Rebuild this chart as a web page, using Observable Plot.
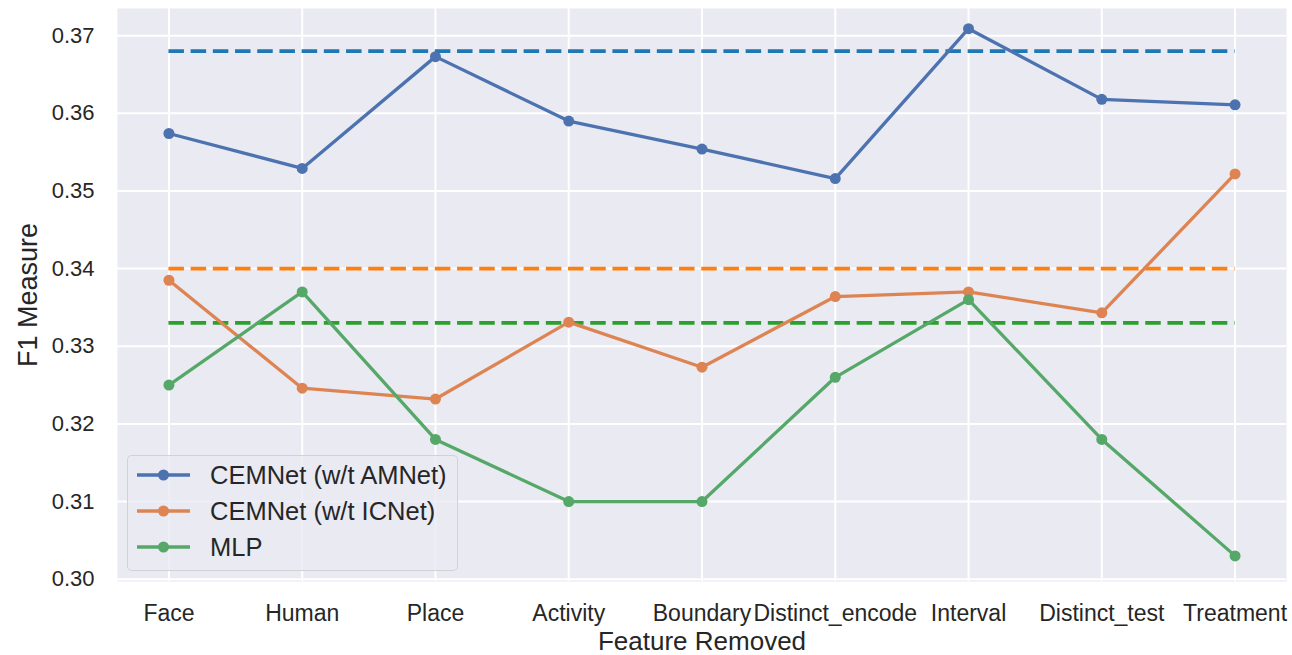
<!DOCTYPE html>
<html><head><meta charset="utf-8">
<script src="https://cdn.jsdelivr.net/npm/d3@7"></script>
<script src="https://cdn.jsdelivr.net/npm/@observablehq/plot@0.6"></script>
<style>
body{margin:0;background:#fff;}
#wrap{position:relative;width:1292px;height:655px;font-family:"Liberation Sans",Arial,sans-serif;color:#262626;}
#legend{position:absolute;left:127px;top:455px;width:331px;height:116px;box-sizing:border-box;
  background:rgba(234,234,242,0.8);border:1.5px solid rgba(204,204,204,0.8);border-radius:5px;padding-top:1px;}
.row{display:flex;align-items:center;height:36px;padding-left:8px;font-size:25.5px;}
.row svg{margin-right:19px;flex:none;}
</style>
</head><body>
<div id="wrap"><div id="chart"></div><div id="legend"></div></div>
<script>
const categories = ["Face","Human","Place","Activity","Boundary","Distinct_encode","Interval","Distinct_test","Treatment"];
const seriesNames = ["CEMNet (w/t AMNet)","CEMNet (w/t ICNet)","MLP"];
const amnetRemoved = [0.3574,0.3529,0.3673,0.3590,0.3554,0.3516,0.3709,0.3618,0.3611];
const icnetRemoved = [0.3385,0.3246,0.3232,0.3331,0.3273,0.3364,0.3370,0.3343,0.3522];
const mlpValues    = [0.325,0.337,0.318,0.310,0.310,0.326,0.336,0.318,0.303];
const baselines = [0.368,0.340,0.333];
const lineColors = ["#4c72b0","#dd8452","#55a868"];
const dashColors = ["#1f77b4","#ff7f0e","#2ca02c"];
const yTicks = [0.30,0.31,0.32,0.33,0.34,0.35,0.36,0.37];
const xLabel = "Feature Removed";
const yLabel = "F1 Measure";

const seriesValues = [amnetRemoved, icnetRemoved, mlpValues];
const rows = [];
seriesValues.forEach((vals, s) => vals.forEach((v, i) => rows.push({series: seriesNames[s], cat: categories[i], value: v})));
const baseRows = baselines.map((b, s) => ({series: seriesNames[s], value: b, x1: categories[0], x2: categories[categories.length - 1]}));

const plot = Plot.plot({
  width: 1292, height: 655,
  marginLeft: 117, marginRight: 6, marginTop: 8, marginBottom: 74,
  style: {fontFamily: '"Liberation Sans", Arial, sans-serif', color: "#262626", background: "#fff"},
  x: {type: "point", domain: categories, padding: 0.386, round: false},
  y: {domain: [0.2997, 0.3735]},
  color: {domain: seriesNames, range: lineColors},
  marks: [
    Plot.frame({fill: "#eaeaf2", stroke: null}),
    Plot.gridX({stroke: "#fff", strokeOpacity: 1, strokeWidth: 2}),
    Plot.gridY(yTicks, {stroke: "#fff", strokeOpacity: 1, strokeWidth: 2}),
    Plot.ruleY(baseRows, {y: "value", x1: "x1", x2: "x2", stroke: (d) => dashColors[seriesNames.indexOf(d.series)], strokeWidth: 3.8, strokeDasharray: "15.5,6.7"}),
    Plot.line(rows, {x: "cat", y: "value", z: "series", stroke: "series", strokeWidth: 3.3}),
    Plot.dot(rows, {x: "cat", y: "value", fill: "series", r: 5.5, stroke: null}),
    Plot.axisY(yTicks, {tickSize: 0, tickPadding: 23, fontSize: 22, tickFormat: ".2f", label: null}),
    Plot.axisX({tickSize: 0, tickPadding: 23, fontSize: 23, label: null}),
    Plot.text([xLabel], {frameAnchor: "bottom", lineAnchor: "middle", dy: 60, fontSize: 26, fill: "#262626"}),
    Plot.text([yLabel], {frameAnchor: "left", textAnchor: "middle", lineAnchor: "middle", dx: -89, rotate: -90, fontSize: 27, fill: "#262626"})
  ]
});
document.getElementById("chart").appendChild(plot);

const legend = document.getElementById("legend");
seriesNames.forEach((name, i) => {
  const row = document.createElement("div");
  row.className = "row";
  row.innerHTML = `<svg width="55" height="14"><line x1="1" x2="54" y1="7" y2="7" stroke="${lineColors[i]}" stroke-width="3.3"/><circle cx="27.5" cy="7" r="5.5" fill="${lineColors[i]}"/></svg><span>${name}</span>`;
  legend.appendChild(row);
});
</script>
</body></html>
